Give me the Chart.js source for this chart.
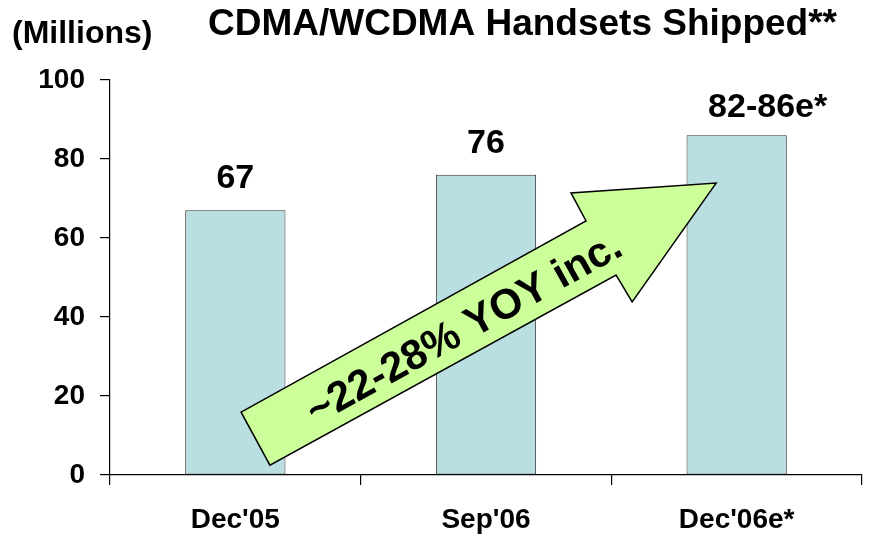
<!DOCTYPE html>
<html>
<head>
<meta charset="utf-8">
<script src="https://cdn.jsdelivr.net/npm/chart.js@4/dist/chart.umd.min.js"></script>
<style>
  html, body { margin: 0; padding: 0; background: #fff; }
  #wrap { width: 870px; height: 537px; position: relative; }
</style>
</head>
<body>
<div id="wrap"><canvas id="chart"></canvas></div>
<script>
  // data
  const categories = ["Dec'05", "Sep'06", "Dec'06e*"];
  const shipped = [67, 76, 86];
  const valueLabels = ['67', '76', '82-86e*'];
  const yTicks = [0, 20, 40, 60, 80, 100];
  const growthText = '~22-28% YOY inc.';

  const FONT = "'Liberation Sans', Arial, sans-serif";

  // ── title + unit label ──────────────────────────────
  const headerPlugin = {
    id: 'header',
    afterDraw(chart) {
      const ctx = chart.ctx;
      ctx.save();
      ctx.fillStyle = '#000';
      ctx.textBaseline = 'alphabetic';
      ctx.textAlign = 'left';
      ctx.font = 'bold 32px ' + FONT;
      ctx.fillText('(Millions)', 12, 43);
      ctx.font = 'bold 37px ' + FONT;
      ctx.fillText('CDMA/WCDMA Handsets Shipped**', 208, 35);
      ctx.restore();
    }
  };

  // ── value labels above bars ─────────────────────────
  const valuePlugin = {
    id: 'values',
    afterDatasetsDraw(chart) {
      const ctx = chart.ctx;
      const bars = chart.getDatasetMeta(0).data;
      ctx.save();
      ctx.fillStyle = '#000';
      ctx.font = 'bold 34px ' + FONT;
      ctx.textAlign = 'center';
      ctx.textBaseline = 'alphabetic';
      bars.forEach((b, i) => {
        const last = i === bars.length - 1;
        ctx.fillText(valueLabels[i], b.x + (last ? 31 : 0), b.y - (last ? 18 : 22));
      });
      ctx.restore();
    }
  };

  // ── growth arrow (anchored in data space) ───────────
  const arrowPlugin = {
    id: 'arrow',
    afterDatasetsDraw(chart) {
      const xs = chart.scales.x, ys = chart.scales.y;
      const P = (i, v) => [xs.getPixelForValue(i), ys.getPixelForValue(v)];
      const pts = [
        P(0.023, 15.9), P(1.399, 64.3), P(1.339, 71.4), P(1.918, 73.9),
        P(1.583, 43.8), P(1.519, 50.6), P(0.138, 2.5)
      ];
      const ctx = chart.ctx;
      ctx.save();
      ctx.beginPath();
      pts.forEach((p, k) => k ? ctx.lineTo(p[0], p[1]) : ctx.moveTo(p[0], p[1]));
      ctx.closePath();
      ctx.fillStyle = '#ccff99';
      ctx.fill();
      ctx.lineWidth = 1.5;
      ctx.strokeStyle = '#000';
      ctx.lineJoin = 'miter';
      ctx.stroke();

      const ang = Math.atan2(pts[1][1] - pts[0][1], pts[1][0] - pts[0][0]);
      const c = P(0.915, 36.8);
      ctx.translate(c[0], c[1]);
      ctx.rotate(ang);
      ctx.fillStyle = '#000';
      ctx.font = 'bold 42px ' + FONT;
      ctx.textAlign = 'center';
      ctx.textBaseline = 'middle';
      ctx.fillText(growthText, 0, 0);
      ctx.restore();
    }
  };

  new Chart(document.getElementById('chart'), {
    type: 'bar',
    data: {
      labels: categories,
      datasets: [{
        data: shipped,
        backgroundColor: '#b9dfe2',
        borderColor: '#333',
        borderWidth: 1,
        borderSkipped: false,
        barPercentage: 1,
        categoryPercentage: 0.4
      }]
    },
    options: {
      responsive: true,
      maintainAspectRatio: false,
      animation: false,
      devicePixelRatio: 1,
      layout: { padding: { top: 80, right: 8, bottom: 0, left: 0 } },
      plugins: { legend: { display: false }, tooltip: { enabled: false }, title: { display: false } },
      scales: {
        x: {
          offset: true,
          afterFit(s) { s.height = 62; },
          border: { display: true, color: '#000', width: 1.2 },
          grid: { offset: true, drawOnChartArea: false, drawTicks: true, tickLength: 10, color: '#000', lineWidth: 1.2 },
          ticks: { color: '#000', padding: 18, font: { family: FONT, size: 28, weight: 'bold' } }
        },
        y: {
          min: 0,
          max: 100,
          afterFit(s) { s.width = 110; },
          afterBuildTicks(s) { s.ticks = yTicks.map(v => ({ value: v })); },
          border: { display: true, color: '#000', width: 1.2 },
          grid: { drawOnChartArea: false, drawTicks: true, tickLength: 10, color: '#000', lineWidth: 1.2 },
          ticks: { color: '#000', padding: 15, font: { family: FONT, size: 28, weight: 'bold' } }
        }
      }
    },
    plugins: [headerPlugin, valuePlugin, arrowPlugin]
  });
</script>
</body>
</html>
